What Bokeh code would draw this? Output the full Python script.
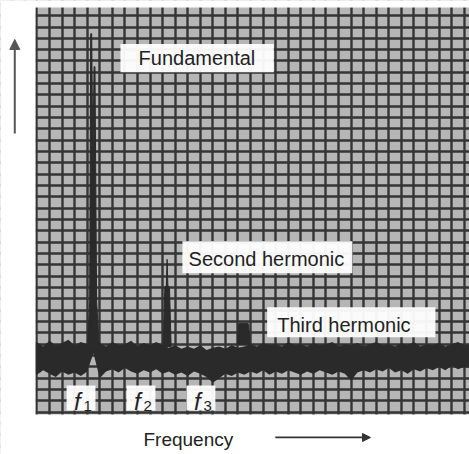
from bokeh.plotting import figure
from bokeh.models import Range1d, SingleIntervalTicker, BoxAnnotation, Label, Arrow, NormalHead
from bokeh.embed import file_html
from bokeh.resources import INLINE

# ---- data (frequency in grid divisions, amplitude in grid divisions) ----
noise_f = [-0.5, 0.0, 0.5, 1.0, 1.5, 2.0, 2.5, 3.0, 3.5, 4.0, 4.5, 5.0, 5.5, 6.0, 6.5,
           7.0, 7.5, 8.0, 8.5, 9.0, 9.5, 10.0, 10.5, 11.0, 11.5, 12.0, 12.5, 13.0, 13.5,
           14.0, 14.5, 15.0, 15.5, 16.0, 16.5, 17.0, 17.5, 18.0, 18.5, 19.0, 19.5, 20.0,
           20.5, 21.0, 21.5, 22.0, 22.5, 23.0, 23.5, 24.0, 24.5, 25.0, 25.5, 26.0, 26.5,
           27.0, 27.5, 28.0, 28.5, 29.0, 29.5, 30.0, 30.5, 31.0, 31.5, 32.0, 32.5, 33.0,
           33.5, 34.0, 34.5]
noise_hi = [6.0, 6.2, 5.8, 6.3, 5.9, 6.1, 6.4, 5.9, 6.2, 6.0, 5.9, 6.1, 5.8, 6.2, 5.9,
            6.0, 6.3, 5.8, 6.1, 5.9, 6.2, 5.9, 5.7, 5.9, 5.6, 5.8, 5.6, 5.9, 5.5,
            5.7, 5.8, 5.6, 5.9, 5.7, 5.8, 6.0, 5.8, 6.1, 5.9, 6.0, 5.8, 6.2,
            5.9, 6.0, 5.8, 6.1, 5.9, 6.0, 6.2, 5.8, 6.0, 5.9, 6.1, 5.8, 6.0,
            6.2, 5.9, 6.0, 5.8, 6.1, 5.9, 6.2, 5.8, 6.0, 5.9, 6.1, 5.8, 6.0,
            6.2, 5.9, 6.0]
noise_lo = [3.5, 3.3, 3.7, 3.4, 3.1, 3.6, 3.3, 3.5, 3.2, 3.6, 5.2, 3.0, 3.6, 3.8, 3.5,
            3.9, 3.6, 3.4, 3.7, 3.5, 3.8, 3.4, 3.6, 3.3, 3.5, 3.2, 3.6, 3.4, 3.1,
            2.6, 3.0, 3.4, 3.2, 3.5, 3.3, 3.6, 3.4, 3.7, 3.3, 3.6, 3.4, 3.7,
            3.5, 3.3, 3.6, 3.4, 3.7, 3.5, 3.3, 3.6, 3.4, 2.8, 3.5, 3.7, 3.5,
            3.8, 3.6, 3.9, 3.5, 3.7, 3.4, 3.8, 3.6, 3.9, 3.7, 4.0, 3.7, 4.1,
            3.8, 4.0, 3.9]

# harmonic peaks (outline of each peak, frequency / amplitude)
fund_f = [4.05, 4.2, 4.28, 4.36, 4.45, 4.55, 4.62, 4.75, 4.95]
fund_a = [6.0, 9.8, 33.4, 33.4, 22.0, 30.5, 30.5, 9.8, 6.0]
second_f = [10.05, 10.18, 10.3, 10.36, 10.42, 10.55, 10.68]
second_a = [5.8, 11.0, 11.2, 13.5, 11.2, 11.0, 5.8]
third_f = [15.95, 16.05, 16.1, 16.8, 16.85, 16.95]
third_a = [6.0, 7.8, 7.85, 7.85, 7.6, 6.0]

peak_names = ["Fundamental", "Second hermonic", "Third hermonic"]
freq_names = ["1", "2", "3"]
x_title = "Frequency"

FONT = "Liberation Sans"
INK = "#222222"

# the frame fills the whole canvas; white boxes make the margins
p = figure(width=469, height=454, x_range=Range1d(-2.896, 34.42), y_range=Range1d(-3.733, 36.34),
           output_backend="svg", toolbar_location=None,
           min_border_left=0, min_border_right=0, min_border_top=0, min_border_bottom=0)
p.xaxis.visible = False
p.yaxis.visible = False
p.xgrid.ticker = SingleIntervalTicker(interval=1)
p.ygrid.ticker = SingleIntervalTicker(interval=1)
p.grid.grid_line_color = "#353535"
p.grid.grid_line_width = 2.4
p.background_fill_color = "#b6b6b6"
p.border_fill_color = "white"
p.outline_line_color = None

p.varea(x=noise_f, y1=noise_lo, y2=noise_hi, fill_color="#2a2a2a")
p.patches(xs=[fund_f, second_f, third_f], ys=[fund_a, second_a, third_a],
          fill_color="#2a2a2a", line_color="#2a2a2a", line_width=1)

# white margins around the graticule
for kw in (dict(left=-10, right=-0.11), dict(bottom=-10, top=-0.2), dict(bottom=35.72, top=50)):
    p.add_layout(BoxAnnotation(fill_color="white", fill_alpha=1, line_color=None, **kw))

# text boxes
boxes = [(6.65, 18.85, 30.0, 32.5), (11.58, 25.1, 12.27, 15.09), (18.32, 31.71, 6.62, 9.27)]
text_pos = [(8.09, 31.26), (12.07, 13.54), (19.12, 7.67)]
for (l, r, b, t), (tx, ty), name in zip(boxes, text_pos, peak_names):
    p.add_layout(BoxAnnotation(left=l, right=r, bottom=b, top=t, fill_color="white",
                               fill_alpha=0.95, line_color=None))
    p.add_layout(Label(x=tx, y=ty, text=name, text_font=FONT, text_font_size="20px",
                       text_color=INK, text_baseline="middle"))

f_boxes = [2.36, 7.13, 11.9]
for left, sub in zip(f_boxes, freq_names):
    p.add_layout(BoxAnnotation(left=left, right=left + 2.3, bottom=0.15, top=2.36,
                               fill_color="white", fill_alpha=0.95, line_color=None))
    p.add_layout(Label(x=left + 0.6, y=0.95, text="f", text_font=FONT, text_font_size="24px",
                       text_font_style="italic", text_color=INK, text_baseline="alphabetic"))
    p.add_layout(Label(x=left + 1.35, y=0.55, text=sub, text_font=FONT, text_font_size="15px",
                       text_color=INK, text_baseline="alphabetic"))

p.add_layout(Label(x=8.48, y=-2.41, text=x_title, text_font=FONT, text_font_size="19px",
                   text_color=INK, text_baseline="middle"))
p.add_layout(Arrow(end=NormalHead(size=8, fill_color="#333333", line_color="#333333"),
                   x_start=18.97, y_start=-2.23, x_end=26.54, y_end=-2.23,
                   line_color="#333333", line_width=1.8))
p.add_layout(Arrow(end=NormalHead(size=10, fill_color="#555555", line_color="#555555"),
                   x_start=-1.76, y_start=24.6, x_end=-1.76, y_end=32.9,
                   line_color="#555555", line_width=2))

open("out.html", "w").write(file_html(p, INLINE))
